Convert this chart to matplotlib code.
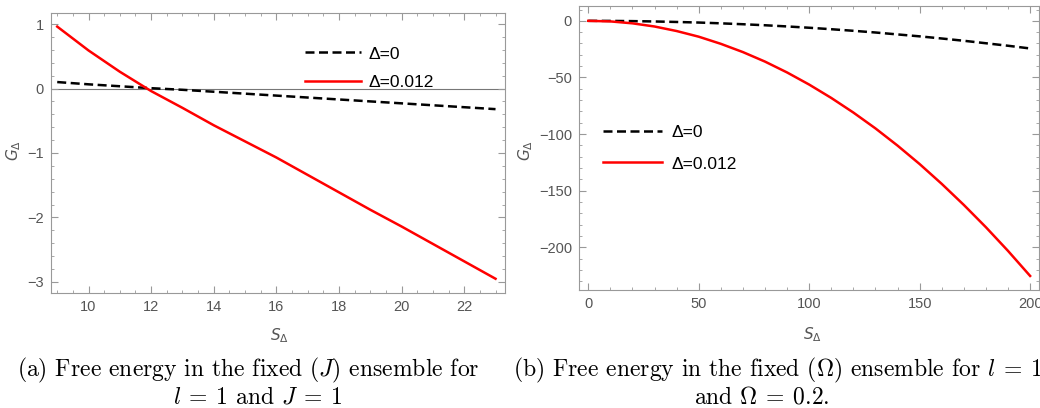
import numpy as np
import matplotlib
matplotlib.use("Agg")
import matplotlib.pyplot as plt
from matplotlib.ticker import MultipleLocator

plt.rcParams['font.family'] = ['Liberation Sans', 'DejaVu Sans']
plt.rcParams['mathtext.fontset'] = 'dejavusans'

# (a) fixed J ensemble
s_a = [9, 10, 11, 12, 13, 14, 15, 16, 17, 18, 19, 20, 21, 22, 23]
g_a_d0 = [0.10, 0.065, 0.035, 0.005, -0.02, -0.05, -0.08, -0.11, -0.14,
          -0.17, -0.20, -0.23, -0.26, -0.29, -0.32]
g_a_d012 = [0.96, 0.59, 0.26, -0.04, -0.30, -0.57, -0.82, -1.07, -1.34,
            -1.61, -1.88, -2.14, -2.41, -2.68, -2.95]

# (b) fixed Omega ensemble
s_b = [0, 10, 20, 30, 40, 50, 60, 70, 80, 90, 100, 110, 120, 130, 140,
       150, 160, 170, 180, 190, 200]
g_b_d0 = [0, -0.06, -0.25, -0.55, -1.0, -1.5, -2.2, -3.0, -3.9, -4.95, -6.1,
          -7.4, -8.8, -10.3, -12.0, -13.7, -15.6, -17.6, -19.8, -22.0, -24.4]
g_b_d012 = [0, -0.5, -2.2, -5.0, -9.0, -14.0, -20.3, -27.6, -36.0, -45.6,
            -56.3, -68.1, -81.0, -95.0, -110.2, -126.5, -144.0, -162.6,
            -182.3, -203.2, -225.3]

labels = ['Δ=0', 'Δ=0.012']
frame_col = '#999999'
text_col = '#555555'

fig = plt.figure(figsize=(10.4, 4.08), dpi=100)
ax1 = fig.add_axes([0.049, 0.282, 0.4365, 0.686])
ax2 = fig.add_axes([0.5567, 0.289, 0.4423, 0.696])


def style(ax):
    for sp in ax.spines.values():
        sp.set_color(frame_col)
    ax.tick_params(which='both', direction='in', top=True, right=True,
                   color=frame_col, labelcolor=text_col, labelsize=10.5)
    ax.tick_params(which='major', length=5, pad=5)
    ax.tick_params(which='minor', length=2.5)


# left panel
ax1.axhline(0, color='#777777', lw=0.8, zorder=1)
ax1.plot(s_a, g_a_d0, color='black', lw=1.8, dashes=(3.6, 1.8), label=labels[0])
ax1.plot(s_a, g_a_d012, color='red', lw=1.8, label=labels[1])
ax1.set_xlim(8.8, 23.3)
ax1.set_ylim(-3.17, 1.17)
ax1.xaxis.set_major_locator(MultipleLocator(2))
ax1.xaxis.set_minor_locator(MultipleLocator(0.5))
ax1.yaxis.set_major_locator(MultipleLocator(1))
ax1.yaxis.set_minor_locator(MultipleLocator(0.2))
style(ax1)
ax1.set_xlabel(r'$S_\Delta$', color=text_col, fontsize=11)
ax1.set_ylabel(r'$G_\Delta$', color=text_col, fontsize=11)
ax1.xaxis.set_label_coords(0.504, -0.12)
ax1.yaxis.set_label_coords(-0.062, 0.51)
ax1.legend(frameon=False, loc='upper left', bbox_to_anchor=(0.56, 0.881),
           borderpad=0, borderaxespad=0, fontsize=12.5, handlelength=3.2,
           handletextpad=0.45, labelspacing=0.78)

# right panel
ax2.plot(s_b, g_b_d0, color='black', lw=1.8, dashes=(3.6, 1.8), label=labels[0])
ax2.plot(s_b, g_b_d012, color='red', lw=1.8, label=labels[1])
ax2.set_xlim(-4.2, 204)
ax2.set_ylim(-237.8, 13)
ax2.xaxis.set_major_locator(MultipleLocator(50))
ax2.xaxis.set_minor_locator(MultipleLocator(10))
ax2.yaxis.set_major_locator(MultipleLocator(50))
ax2.yaxis.set_minor_locator(MultipleLocator(10))
style(ax2)
ax2.set_xlabel(r'$S_\Delta$', color=text_col, fontsize=11)
ax2.set_ylabel(r'$G_\Delta$', color=text_col, fontsize=11)
ax2.xaxis.set_label_coords(0.507, -0.125)
ax2.yaxis.set_label_coords(-0.096, 0.49)
ax2.legend(frameon=False, loc='upper left', bbox_to_anchor=(0.052, 0.581),
           borderpad=0, borderaxespad=0, fontsize=12.5, handlelength=3.4,
           handletextpad=0.55, labelspacing=0.93)

# captions
cap = dict(fontsize=17, family='cmr10', math_fontfamily='cm', color='black',
           va='baseline')
y1 = (408 - 376) / 408
y2 = (408 - 403) / 408
fig.text(248 / 1040, y1, "(a) Free energy in the fixed $(J)$ ensemble for",
         ha='center', **cap)
fig.text(258 / 1040, y2, "$l\\:=\\:1$ and $J\\:=\\:1$", ha='center', **cap)
fig.text(513 / 1040, y1,
         "(b) Free energy in the fixed $(\\Omega)$ ensemble for $l\\:=\\:1$",
         ha='left', **cap)
fig.text(762 / 1040, y2, "and $\\Omega\\:=\\:0.2$.", ha='center', **cap)

fig.savefig('out.png', dpi=100)
